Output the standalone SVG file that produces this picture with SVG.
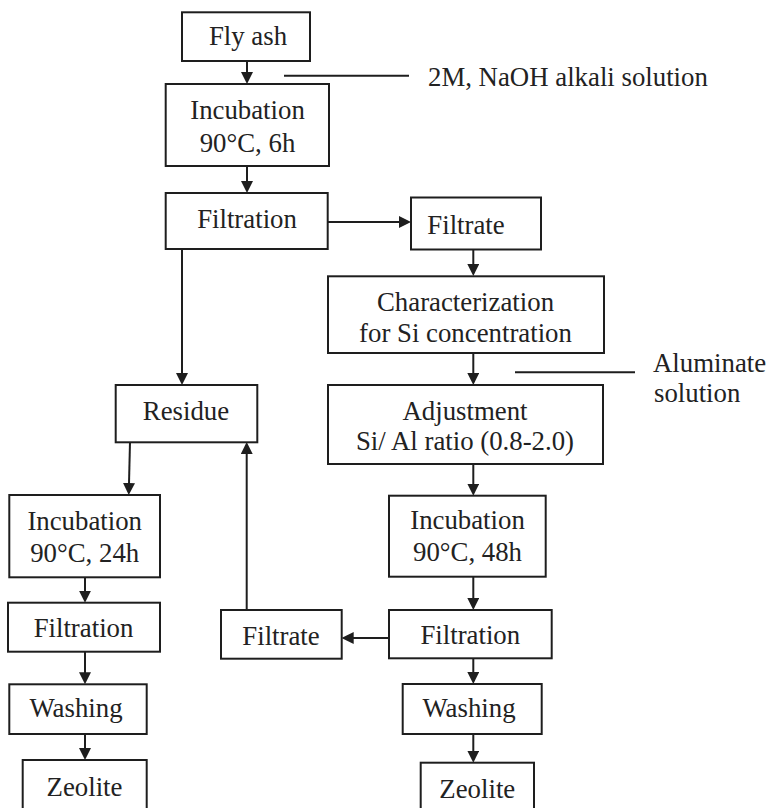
<svg xmlns="http://www.w3.org/2000/svg" width="769" height="808" viewBox="0 0 769 808">
<defs>
<marker id="ah" markerUnits="userSpaceOnUse" markerWidth="12" markerHeight="12" refX="9" refY="6" orient="auto">
<path d="M0,0 L12,6 L0,12 z" fill="#1e1e1e"/>
</marker>
<style>
.box{fill:#fff;stroke:#1e1e1e;stroke-width:2}
.t{font-family:"Liberation Serif","Times New Roman",serif;font-size:26.8px;fill:#222;text-anchor:middle}
.l{font-family:"Liberation Serif","Times New Roman",serif;font-size:26.8px;fill:#222}
.c{stroke:#1e1e1e;stroke-width:2;fill:none}
.a{stroke:#1e1e1e;stroke-width:2;fill:none;marker-end:url(#ah)}
</style>
</defs>
<rect width="769" height="808" fill="#fff"/>
<g id="connectors">
<line class="a" x1="247" y1="61" x2="247" y2="81"/>
<line class="c" x1="284" y1="75.7" x2="409" y2="75.7"/>
<line class="a" x1="247" y1="166" x2="247" y2="190"/>
<line class="a" x1="328" y1="222" x2="408" y2="222"/>
<line class="a" x1="182" y1="249" x2="182" y2="382"/>
<line class="a" x1="473.3" y1="250" x2="473.3" y2="273"/>
<line class="a" x1="473.3" y1="353" x2="473.3" y2="382"/>
<line class="c" x1="515" y1="372.3" x2="635" y2="372.3"/>
<line class="a" x1="473.3" y1="464" x2="473.3" y2="492.7"/>
<line class="a" x1="130" y1="442" x2="128.8" y2="492"/>
<line class="a" x1="246.7" y1="610" x2="246.7" y2="445"/>
<line class="a" x1="85" y1="577" x2="85" y2="599.7"/>
<line class="a" x1="85" y1="651.7" x2="85" y2="681.3"/>
<line class="a" x1="85" y1="734" x2="85" y2="757"/>
<line class="a" x1="473.3" y1="576.7" x2="473.3" y2="607"/>
<line class="a" x1="389" y1="638" x2="344.7" y2="638"/>
<line class="a" x1="473.3" y1="658.3" x2="473.3" y2="681"/>
<line class="a" x1="473.3" y1="734" x2="473.3" y2="759.7"/>
</g>
<g id="flyash"><rect class="box" x="182" y="12.3" width="128" height="48.7"/><text class="t" x="248" y="45">Fly ash</text></g>
<g id="naoh"><text class="l" x="428" y="85.5">2M, NaOH alkali solution</text></g>
<g id="incubation6"><rect class="box" x="165.7" y="84" width="163.3" height="82"/><text class="t" x="247.5" y="119">Incubation</text><text class="t" x="247.5" y="151.5">90°C, 6h</text></g>
<g id="filtration1"><rect class="box" x="165.7" y="193" width="162" height="56"/><text class="t" x="247" y="228">Filtration</text></g>
<g id="filtrate1"><rect class="box" x="411" y="197.5" width="130" height="52"/><text class="t" x="466" y="234">Filtrate</text></g>
<g id="characterization"><rect class="box" x="328" y="276.3" width="276" height="76.7"/><text class="t" x="465.5" y="310.7">Characterization</text><text class="t" x="465.5" y="342">for Si concentration</text></g>
<g id="aluminate"><text class="l" x="653" y="372.3">Aluminate</text><text class="l" x="654" y="402.3">solution</text></g>
<g id="adjustment"><rect class="box" x="328" y="385" width="275" height="79"/><text class="t" x="465" y="419.5">Adjustment</text><text class="t" x="465" y="449.5">Si/ Al ratio (0.8-2.0)</text></g>
<g id="residue"><rect class="box" x="115.7" y="385" width="141.6" height="57.3"/><text class="t" x="186" y="420">Residue</text></g>
<g id="incubation24"><rect class="box" x="9.3" y="495" width="150.7" height="82.3"/><text class="t" x="84.7" y="530">Incubation</text><text class="t" x="84.7" y="561.5">90°C, 24h</text></g>
<g id="filtration2"><rect class="box" x="8" y="602.7" width="152" height="49"/><text class="t" x="83.5" y="636.7">Filtration</text></g>
<g id="washing1"><rect class="box" x="9.3" y="684.3" width="137.4" height="49.7"/><text class="t" x="76" y="717">Washing</text></g>
<g id="zeolite1"><rect class="box" x="22.7" y="760" width="124" height="60"/><text class="t" x="84.5" y="796">Zeolite</text></g>
<g id="filtrate2"><rect class="box" x="221" y="610" width="120.7" height="48.7"/><text class="t" x="281" y="645">Filtrate</text></g>
<g id="incubation48"><rect class="box" x="389" y="495.7" width="156.7" height="81"/><text class="t" x="467.5" y="529.3">Incubation</text><text class="t" x="467.5" y="560.5">90°C, 48h</text></g>
<g id="filtration3"><rect class="box" x="389" y="610" width="162.7" height="48.3"/><text class="t" x="470.3" y="644">Filtration</text></g>
<g id="washing2"><rect class="box" x="402.7" y="684" width="139" height="50"/><text class="t" x="469" y="716.7">Washing</text></g>
<g id="zeolite2"><rect class="box" x="420.7" y="762.7" width="113.3" height="60"/><text class="t" x="477.3" y="798">Zeolite</text></g>
</svg>
